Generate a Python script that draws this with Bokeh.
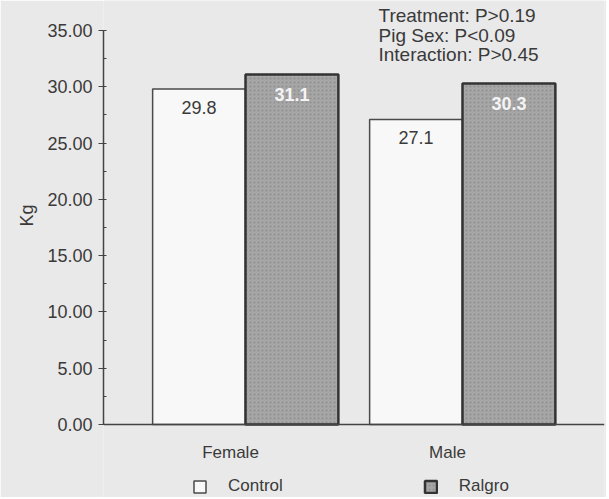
from bokeh.plotting import figure
from bokeh.models import (ColumnDataSource, FactorRange, Range1d, SingleIntervalTicker,
                          PrintfTickFormatter, Label, Legend, LegendItem, Title, Span)
from bokeh.transform import dodge
from bokeh.core.properties import value
from bokeh.embed import file_html
from bokeh.resources import INLINE

# ---- data ----
sexes = ["Female", "Male"]
control = [29.8, 27.1]
ralgro = [31.1, 30.3]
control_labels = ["29.8", "27.1"]
ralgro_labels = ["31.1", "30.3"]
stats = ["Treatment: P>0.19", "Pig Sex: P<0.09", "Interaction: P>0.45"]
series_names = ["Control", "Ralgro"]
y_label = "Kg"
y_min, y_max, y_step = 0, 35, 5

# ---- layout (pixels) ----
W, H = 606, 497
LEFT, RIGHT = 103, 604          # frame left / right
AX_TOP, AX_BOTTOM = 30, 424     # y of axis max / axis zero
PX = (AX_BOTTOM - AX_TOP) / (y_max - y_min)

FONT = "Liberation Sans"
BG = "#e9e9e9"
INK = "#3a3a3a"

src = ColumnDataSource(dict(sex=sexes, control=control, ralgro=ralgro,
                            cl=control_labels, rl=ralgro_labels,
                            base=[y_min] * len(sexes)))

p = figure(x_range=FactorRange(factors=sexes, range_padding=0.1544),
           y_range=Range1d(y_min - (H - AX_BOTTOM) / PX, y_max + AX_TOP / PX),
           x_axis_location=None,
           width=W, height=H, output_backend="svg", toolbar_location=None,
           min_border_left=LEFT, min_border_right=W - RIGHT,
           min_border_top=0, min_border_bottom=0)
p.background_fill_color = BG
p.border_fill_color = BG
p.outline_line_color = None
p.xgrid.visible = False
p.ygrid.visible = False

BW = 0.428
OFF = 0.214
r_c = p.vbar(x=dodge("sex", -OFF, range=p.x_range), top="control", width=BW, bottom=0,
             source=src, fill_color="#f8f8f8", line_color="#4a4a4a", line_width=1.5)
r_r = p.vbar(x=dodge("sex", OFF, range=p.x_range), top="ralgro", width=BW, bottom=0,
             source=src, fill_color="#a6a6a6", line_color="#333333", line_width=2.5,
             hatch_pattern=".", hatch_color="#7f7f7f", hatch_scale=4, hatch_weight=1,
             hatch_alpha=0.6)

p.text(x=dodge("sex", -OFF, range=p.x_range), y="control", text="cl", source=src,
       y_offset=18, text_align="center", text_baseline="middle",
       text_font=value(FONT), text_font_size="18px", text_color=INK)
p.text(x=dodge("sex", OFF, range=p.x_range), y="ralgro", text="rl", source=src,
       y_offset=20, text_align="center", text_baseline="middle",
       text_font=value(FONT), text_font_size="18px", text_font_style="bold",
       text_color="#f4f4f4")

# x baseline at y = 0 and category names beneath it
p.add_layout(Span(location=y_min, dimension="width", line_color="#444444", line_width=1.5))
p.text(x="sex", y="base", text="sex", source=src, x_offset=-15, y_offset=28,
       text_align="center", text_baseline="middle",
       text_font=value(FONT), text_font_size="17px", text_color=INK)

# y axis
ya = p.yaxis[0]
ya.bounds = (y_min, y_max)
ya.ticker = SingleIntervalTicker(interval=y_step, num_minor_ticks=2)
ya.formatter = PrintfTickFormatter(format="%.2f")
ya.major_label_text_font = FONT
ya.major_label_text_font_size = "18px"
ya.major_label_text_color = INK
ya.major_label_standoff = 6
ya.major_tick_out = 5
ya.major_tick_in = 2
ya.minor_tick_out = 0
ya.minor_tick_in = 3
ya.axis_line_color = "#444444"
ya.axis_line_width = 1.5
ya.major_tick_line_color = "#444444"
ya.minor_tick_line_color = "#444444"

# y axis title
p.add_layout(Title(text=y_label, align="right", offset=204, standoff=16,
                   text_font=FONT, text_font_size="18px", text_font_style="normal",
                   text_color=INK), "left")

# stats annotation
for i, s in enumerate(stats):
    p.add_layout(Label(x=378 - LEFT, y=H - (15 + 19.5 * i), x_units="screen", y_units="screen",
                       text=s, text_baseline="middle", text_align="left",
                       text_font=FONT, text_font_size="19px", text_color=INK))

# legend
legend = Legend(items=[LegendItem(label=series_names[0], renderers=[r_c]),
                       LegendItem(label=series_names[1], renderers=[r_r])],
                orientation="horizontal", location=(192 - LEFT, 1),
                glyph_width=15, glyph_height=15, label_standoff=21, spacing=140,
                padding=0, margin=0, border_line_color=None, background_fill_alpha=0,
                label_text_font=FONT, label_text_font_size="17px", label_text_color=INK,
                label_height=20)
p.add_layout(legend)

open("out.html", "w").write(file_html(p, INLINE))
